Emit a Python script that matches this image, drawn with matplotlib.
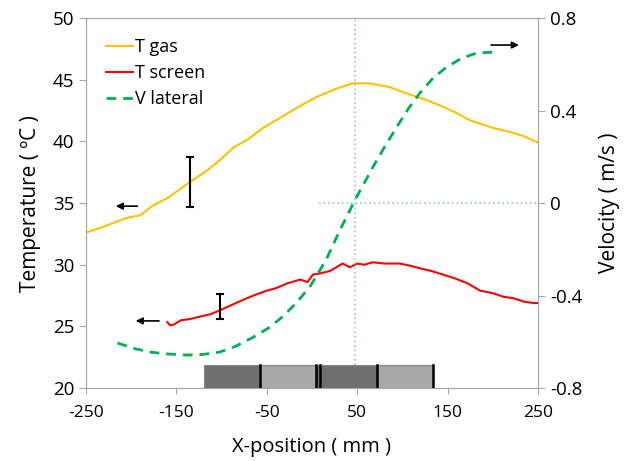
import matplotlib.pyplot as plt
from matplotlib.patches import Rectangle

plt.rcParams['font.family'] = ['Open Sans', 'DejaVu Sans']
plt.rcParams['axes.unicode_minus'] = False

# data
x_gas = [-250, -230, -205, -190, -176, -160, -135, -115, -100, -87, -70, -54, -40, -24, -10,
         5, 15, 28, 45, 64, 86, 108, 127, 145, 160, 175, 200, 222, 235, 250]
t_gas = [32.6, 33.1, 33.8, 34.0, 34.8, 35.4, 36.7, 37.7, 38.6, 39.5, 40.2, 41.1, 41.7, 42.4, 43.0,
         43.6, 43.9, 44.3, 44.7, 44.7, 44.4, 43.8, 43.35, 42.8, 42.3, 41.7, 41.1, 40.7, 40.4, 39.9]

x_screen = [-160, -157, -153, -145, -135, -124, -112, -102, -90, -78, -65, -50, -40, -27, -13, -5, 1,
            9, 20, 27, 34, 42, 50, 58, 67, 80, 97, 110, 120, 132, 145, 158, 172, 186, 200, 212, 222,
            235, 245, 250]
t_screen = [25.35, 25.1, 25.15, 25.5, 25.6, 25.8, 26.0, 26.3, 26.7, 27.1, 27.5, 27.9, 28.1, 28.5, 28.8,
            28.6, 29.2, 29.3, 29.5, 29.8, 30.1, 29.8, 30.1, 30.0, 30.2, 30.1, 30.1, 29.9, 29.7, 29.5,
            29.2, 28.9, 28.5, 27.9, 27.7, 27.4, 27.3, 27.0, 26.9, 26.9]

x_vel = [-215, -195, -179, -160, -138, -120, -102, -85, -65, -48, -32, -17, -2, 15, 31, 47.6,
         67.5, 80, 94, 107, 119.5, 134, 149, 165, 182.5, 200]
v_lat = [-0.605, -0.63, -0.644, -0.652, -0.657, -0.654, -0.644, -0.62, -0.58, -0.54, -0.49, -0.43,
         -0.36, -0.25, -0.117, 0.013, 0.156, 0.24, 0.33, 0.41, 0.476, 0.54, 0.588, 0.625, 0.649, 0.652]

# error bars (x, low, high) in temperature units
err_x = [-135, -102]
err_lo = [34.7, 25.6]
err_hi = [38.7, 27.6]

# gray blocks at the bottom (start, end, shade)
block_edges = [-119.5, -57.5, 4.4, 8.5, 72, 134]
block_shades = ['#6f6f6f', '#a8a8a8', '#6f6f6f', '#6f6f6f', '#a8a8a8']

fig = plt.figure(figsize=(6.27, 4.61), dpi=100)
ax = fig.add_axes([0.137, 0.158, 0.721, 0.803])
ax2 = ax.twinx()

grey = '#a6a6a6'
l1, = ax.plot(x_gas, t_gas, color='#FFC000', lw=1.5, label='T gas')
l2, = ax.plot(x_screen, t_screen, color='#FF0000', lw=1.5, label='T screen')
l3, = ax2.plot(x_vel, v_lat, color='#00B050', lw=2, ls=(0, (3.5, 2.5)), label='V lateral')

for xe, lo, hi in zip(err_x, err_lo, err_hi):
    ax.errorbar([xe], [(lo + hi) / 2], yerr=[[(hi - lo) / 2], [(hi - lo) / 2]],
                fmt='none', ecolor='black', elinewidth=1.5, capsize=3, capthick=1.5)

# blocks
for i in range(len(block_edges) - 1):
    ax.add_patch(Rectangle((block_edges[i], 20), block_edges[i + 1] - block_edges[i], 1.85,
                           facecolor=block_shades[i], edgecolor='#888888', lw=0.8, zorder=3))
for xb in block_edges[1:]:
    ax.plot([xb, xb], [20, 21.85], color='black', lw=1.8, zorder=4)

# reference lines
ax.axvline(47.6, color='#8fb4dc', lw=1.1, ls=(0, (1, 2)))
ax2.plot([8, 250], [0, 0], color='#8fb4dc', lw=1.1, ls=(0, (1, 2)))

# arrows
arr = dict(arrowstyle='-|>', color='black', lw=1.2, mutation_scale=10)
ax.annotate('', xy=(-220, 34.75), xytext=(-190, 34.75), arrowprops=arr)
ax.annotate('', xy=(-198, 25.45), xytext=(-166, 25.45), arrowprops=arr)
ax2.annotate('', xy=(232, 0.683), xytext=(195, 0.683), arrowprops=arr)

ax.set_xlim(-250, 250)
ax.set_ylim(20, 50)
ax2.set_ylim(-0.8, 0.8)
ax.set_xticks([-250, -150, -50, 50, 150, 250])
ax.set_yticks([20, 25, 30, 35, 40, 45, 50])
ax2.set_yticks([-0.8, -0.4, 0, 0.4, 0.8])
ax2.set_yticklabels(['-0.8', '-0.4', '0', '0.4', '0.8'])

for a in (ax, ax2):
    for s in a.spines.values():
        s.set_color(grey)
    a.tick_params(colors=grey, labelcolor='black', labelsize=13.5, length=5, direction='out')
ax.tick_params(axis='x', pad=8, length=4, labelsize=12.5)

ax.set_xlabel('X-position ( mm )', fontsize=14.5, labelpad=12)
ax.set_ylabel('Temperature ( ºC )', fontsize=15, labelpad=8)
ax2.set_ylabel('Velocity ( m/s )', fontsize=15, labelpad=12)

ax.legend(handles=[l1, l2, l3], loc='upper left', frameon=False, fontsize=13,
          handlelength=1.5, handletextpad=0.1, labelspacing=0.45, borderaxespad=0.7,
          bbox_to_anchor=(0.0, 1.0))

fig.savefig('out.png', dpi=100)
